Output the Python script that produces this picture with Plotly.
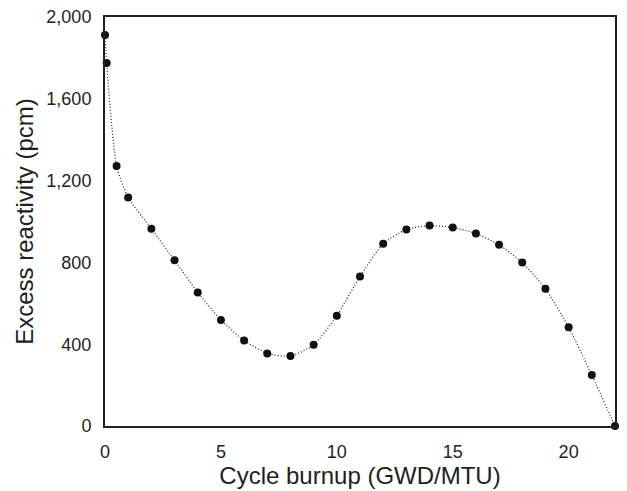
import plotly.graph_objects as go

burnup = [0, 0.07, 0.5, 1, 2, 3, 4, 5, 6, 7, 8, 9, 10, 11, 12, 13, 14, 15, 16, 17, 18, 19, 20, 21, 22]
reactivity = [1912, 1775, 1271, 1117, 965, 810, 653, 518, 418, 355, 342, 397, 539, 731, 891, 961, 980, 971, 941, 886, 799, 671, 483, 249, 0]

x_ticks = [0, 5, 10, 15, 20]
y_ticks = [0, 400, 800, 1200, 1600, 2000]
y_tick_text = ["0", "400", "800", "1,200", "1,600", "2,000"]

FONT = "Liberation Sans, Arial, sans-serif"
INK = "#231f20"

fig = go.Figure()
fig.add_trace(go.Scatter(
    x=burnup, y=reactivity, mode="lines+markers",
    line=dict(color="#222", width=1.2, dash="1px,2px", shape="spline", smoothing=0.6),
    marker=dict(color="#111", size=8),
    cliponaxis=False, showlegend=False,
))

fig.update_layout(
    width=627, height=491,
    margin=dict(l=105, r=12, t=17, b=65),
    paper_bgcolor="white", plot_bgcolor="white",
    font=dict(family=FONT, color=INK, size=18),
)
fig.update_xaxes(
    range=[0, 22], tickvals=x_ticks, showgrid=False, zeroline=False,
    showline=True, linecolor=INK, linewidth=2, mirror=True, automargin=False,
    ticks="", ticklabelstandoff=8,
    tickfont=dict(size=18, family=FONT, color=INK),
    title=dict(text="Cycle burnup (GWD/MTU)", font=dict(size=24, family=FONT, color=INK), standoff=4),
)
fig.update_yaxes(
    range=[0, 2000], tickvals=y_ticks, ticktext=y_tick_text, showgrid=False, zeroline=False,
    showline=True, linecolor=INK, linewidth=2, mirror=True, automargin=False,
    ticks="", ticklabelstandoff=8,
    tickfont=dict(size=18, family=FONT, color=INK),
    title=dict(text="Excess reactivity (pcm)", font=dict(size=24, family=FONT, color=INK), standoff=6),
)

fig.write_html(
    "out.html",
    config={"displayModeBar": False},
    post_script="document.body.style.margin='0';document.body.style.overflow='hidden';",
)
